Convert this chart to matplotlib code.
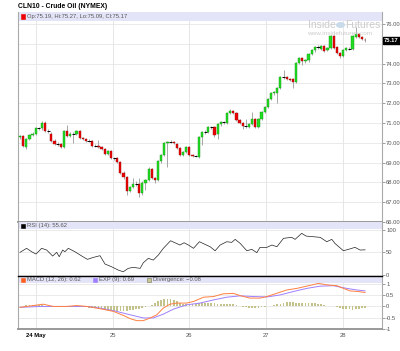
"""
Hourly crude oil (CLN10) candle chart with RSI and MACD panels.
"""

import matplotlib
matplotlib.use("Agg")
import matplotlib.pyplot as plt
from matplotlib.patches import Rectangle, Ellipse
import numpy as np

# ---- data ------------------------------------------------------------
opens = [70.28, 70.33, 69.78, 70.20, 70.40, 70.45, 70.75, 70.72, 71.00, 70.60,
         70.45, 70.10, 69.95, 69.95, 69.80, 70.60, 70.35, 70.45, 70.45, 70.58,
         70.22, 70.20, 70.10, 70.10, 69.85, 69.82, 69.80, 69.70, 69.45, 69.60,
         69.25, 69.25, 69.05, 68.45, 68.25, 67.55, 67.75, 67.90, 67.90, 67.45,
         67.95, 68.10, 68.70, 68.20, 68.10, 69.10, 69.40, 70.00, 70.05, 70.05,
         69.95, 69.75, 69.40, 69.55, 69.80, 69.40, 69.35, 69.30, 70.30, 70.55,
         70.55, 70.80, 70.80, 70.45, 70.95, 71.05, 71.00, 71.50, 71.60, 71.50,
         71.15, 71.00, 70.85, 70.80, 70.95, 71.20, 70.80, 71.20, 71.55, 71.80,
         72.20, 72.50, 72.50, 72.75, 73.30, 73.30, 73.20, 73.20, 73.05, 74.05,
         74.30, 74.15, 74.20, 74.50, 74.70, 74.85, 74.75, 74.90, 74.70, 74.80,
         75.40, 74.85, 74.55, 74.40, 74.70, 74.75, 74.75, 75.35, 75.50, 75.35,
         75.19]
highs = [70.40, 70.40, 70.25, 70.42, 70.55, 70.80, 70.82, 71.08, 71.10, 70.70,
         70.55, 70.20, 70.05, 70.00, 70.65, 70.90, 70.55, 70.55, 70.65, 70.62,
         70.30, 70.25, 70.18, 70.15, 69.95, 70.15, 69.85, 69.75, 69.65, 69.65,
         69.30, 69.30, 69.10, 68.55, 68.30, 67.80, 68.20, 68.05, 68.20, 68.05,
         68.15, 68.80, 68.75, 68.25, 69.15, 69.45, 70.05, 70.10, 70.12, 70.10,
         70.00, 69.80, 69.60, 69.85, 69.85, 69.45, 69.40, 70.35, 70.58, 70.65,
         70.85, 70.85, 70.85, 71.00, 71.10, 71.12, 71.55, 71.68, 71.65, 71.55,
         71.20, 71.05, 71.20, 71.00, 71.55, 71.25, 71.25, 71.60, 71.85, 72.25,
         72.55, 72.60, 72.80, 73.35, 73.65, 73.35, 73.25, 73.25, 74.10, 74.35,
         74.35, 74.25, 74.55, 74.72, 74.90, 74.92, 74.92, 74.95, 74.85, 75.45,
         75.45, 74.90, 74.60, 74.75, 74.85, 74.85, 75.45, 75.85, 75.55, 75.40,
         75.27]
lows = [70.20, 69.80, 69.70, 70.12, 70.35, 70.40, 70.65, 70.65, 70.55, 70.50,
        70.05, 69.90, 69.85, 69.75, 69.75, 70.30, 70.30, 70.00, 70.40, 70.20,
        70.15, 70.05, 70.02, 69.80, 69.78, 69.75, 69.65, 69.40, 69.40, 69.20,
        69.15, 69.00, 68.40, 68.15, 67.35, 67.50, 67.70, 67.80, 67.25, 67.35,
        67.60, 68.05, 68.15, 67.95, 68.05, 69.00, 69.35, 68.80, 69.98, 69.95,
        69.70, 69.35, 69.35, 69.50, 69.35, 69.30, 69.28, 69.25, 69.90, 70.45,
        70.50, 70.70, 70.30, 70.20, 70.85, 70.95, 70.95, 71.45, 71.45, 71.10,
        70.95, 70.70, 70.75, 70.75, 70.90, 70.75, 70.75, 71.15, 71.50, 71.75,
        72.15, 72.40, 72.00, 72.70, 73.20, 73.15, 73.10, 72.75, 73.00, 74.00,
        73.95, 74.05, 74.10, 74.45, 74.60, 74.75, 74.70, 74.60, 74.65, 74.75,
        74.75, 74.50, 74.30, 74.35, 74.65, 74.70, 74.70, 75.30, 75.30, 75.20,
        75.09]
closes = [70.33, 69.85, 70.20, 70.38, 70.45, 70.75, 70.75, 71.00, 70.60, 70.60,
          70.10, 69.95, 69.95, 69.80, 70.60, 70.35, 70.42, 70.45, 70.58, 70.22,
          70.20, 70.10, 70.10, 69.85, 69.85, 69.80, 69.70, 69.45, 69.60, 69.25,
          69.25, 69.05, 68.45, 68.25, 67.55, 67.75, 67.90, 67.90, 67.45, 67.95,
          68.10, 68.70, 68.20, 68.10, 69.10, 69.40, 70.00, 70.05, 70.05, 70.00,
          69.75, 69.40, 69.55, 69.80, 69.40, 69.35, 69.35, 70.30, 70.55, 70.55,
          70.80, 70.80, 70.40, 70.95, 71.05, 71.05, 71.50, 71.60, 71.50, 71.15,
          71.00, 70.85, 70.85, 70.95, 71.20, 70.80, 71.20, 71.55, 71.80, 72.20,
          72.50, 72.55, 72.75, 73.30, 73.30, 73.20, 73.15, 73.05, 74.05, 74.30,
          74.15, 74.20, 74.50, 74.70, 74.85, 74.85, 74.90, 74.65, 74.80, 75.40,
          74.80, 74.55, 74.40, 74.70, 74.80, 74.75, 75.40, 75.50, 75.35, 75.25,
          75.17]

rsi_idx = [0, 2.1, 3.7, 5.1, 6.9, 8.5, 10.4, 11.7, 12.5, 13.6, 14.3, 15.4,
           17.5, 19.7, 21.5, 23.4, 25.5, 27.1, 29.2, 31.3, 32.9, 34.5, 36.1,
           38.3, 39.3, 40.9, 42.5, 44.1, 45.7, 48.0, 49.4, 51.0, 52.3, 53.7,
           55.3, 57.2, 59.0, 60.6, 62.2, 63.8, 65.9, 67.5, 68.6, 70.2, 72.3,
           73.9, 75.5, 76.5, 78.7, 80.3, 81.9, 84.0, 86.6, 87.7, 89.8, 91.2,
           93.5, 95.7, 97.8, 99.4, 100.4, 103.1, 104.7, 106.8, 108.4, 110.0]
rsi_val = [50, 59, 51.4, 46.2, 59, 55.2, 41.7, 50, 40.2, 55.2, 51.4, 59,
           51.4, 41.7, 34.3, 38.7, 42.5, 23.8, 17.7, 10.3, 6.5, 14.1, 16.4,
           14.1, 26.7, 36.5, 32.7, 44, 59, 76, 71.5, 66.4, 71.5, 66.4,
           59, 73.8, 67.8, 62.6, 53.6, 66.4, 73.8, 72.4, 79.1, 70, 53.6,
           56.7, 49.3, 61.2, 61.2, 66.4, 62.6, 81.4, 83.6, 79.1, 92.6, 86.5,
           85, 83.6, 73.8, 79.1, 70, 53.6, 56.7, 61.2, 55.2, 55.62]

macd_idx = [0, 4.25, 7.4, 10.6, 14.9, 18.1, 21.3, 25.5, 29.8, 33.0, 35.1,
            37.2, 39.3, 41.5, 43.6, 45.7, 47.8, 50.0, 53.1, 55.3, 58.5, 61.7,
            64.8, 68.0, 70.2, 73.3, 76.5, 78.7, 81.8, 85.0, 88.2, 91.4, 95.1,
            98.3, 101.0, 103.1, 105.2, 107.9, 110.0]
macd_val = [-0.04, 0.04, 0.10, 0.0, 0.0, 0.04, 0.0, -0.10, -0.22, -0.40, -0.54,
            -0.63, -0.63, -0.51, -0.37, -0.07, 0.10, 0.15, 0.15, 0.22, 0.41, 0.44,
            0.56, 0.58, 0.48, 0.37, 0.37, 0.44, 0.58, 0.73, 0.80, 0.90, 1.02,
            0.95, 0.92, 0.80, 0.69, 0.66, 0.62]

signal_idx = [0, 6.4, 14.9, 21.3, 25.5, 30.8, 35.1, 39.3, 42.5, 45.7, 48.9,
              53.1, 57.4, 61.7, 65.9, 70.2, 74.4, 78.7, 82.9, 87.1, 91.4, 95.7,
              99.9, 104.2, 107.4, 110.0]
signal_val = [-0.04, 0.0, 0.0, 0.0, -0.07, -0.22, -0.37, -0.51, -0.51, -0.34,
              -0.12, 0.07, 0.15, 0.29, 0.41, 0.47, 0.44, 0.42, 0.51, 0.66, 0.80,
              0.90, 0.92, 0.80, 0.73, 0.69]

divergence = [0.02, 0.04, 0.05, 0.06, 0.07,
              0.07, 0.06, 0.05, 0.03, 0.02,
              -0.02, -0.03, -0.02, 0.01, 0.02,
              0.02, 0.01, 0.0, -0.01, -0.02, -0.03, -0.04,
              -0.05, -0.07, -0.09, -0.11, -0.13, -0.15, -0.17, -0.18, -0.19,
              -0.20, -0.20, -0.19, -0.18, -0.16, -0.14, -0.12, -0.10, -0.07, -0.04,
              0.02, 0.08, 0.15, 0.22, 0.28, 0.33, 0.34, 0.32, 0.28, 0.22, 0.16, 0.12,
              0.10, 0.10, 0.11, 0.13, 0.15, 0.16, 0.16, 0.15, 0.15, 0.14, 0.13, 0.13,
              0.12, 0.12, 0.11, 0.09, 0.06, 0.03,
              -0.02, -0.04, -0.05, -0.06, -0.06, -0.05, -0.04, -0.03, 0.0, 0.03,
              0.07, 0.10, 0.13, 0.16, 0.18, 0.19, 0.18, 0.17, 0.17, 0.17, 0.16, 0.16,
              0.15, 0.14, 0.12, 0.10, 0.07, 0.04, 0.02,
              0.0, -0.03, -0.07, -0.10, -0.12, -0.13, -0.14, -0.13, -0.11, -0.09, -0.08]

day_pos = [5.1, 29.6, 53.9, 78.4, 103.0]
day_labels = ["24 May", "25", "26", "27", "28"]
price_ticks = [66, 67, 68, 69, 70, 71, 72, 73, 74, 75, 76]
rsi_ticks = [0, 50, 100]
macd_ticks = [-1, -0.5, 0, 0.5, 1]

title = "CLN10 - Crude Oil (NYMEX)"
ohlc_text = "Op:75.19, Hi:75.27, Lo:75.09, Cl:75.17"
rsi_text = "RSI (14): 55.62"
macd_text = "MACD (12, 26): 0.62"
exp_text = "EXP (9): 0.69"
div_text = "Divergence: \u22120.08"
last_price = 75.17

# ---- style -------------------------------------------------------------
FONT = ["Liberation Sans", "DejaVu Sans"]
plt.rcParams["font.family"] = FONT
W, H = 400, 351
BAND = "#e4e4f8"
GRID = "#e6e6e6"
TXT = "#555555"
UP, DOWN = "#22dd22", "#ee0000"
XLIM = (-0.64, 115.4)


def fx(px):
    return px / W


def fy(py):
    return 1 - py / H


def style_panel(ax, ticks, labels, ylim, band_px, height_px):
    ax.set_xlim(*XLIM)
    ax.set_ylim(*ylim)
    ax.set_facecolor("white")
    ax.yaxis.tick_right()
    ax.set_yticks(ticks)
    ax.set_yticklabels(labels)
    ax.tick_params(axis="y", length=2, width=0.5, pad=1, labelsize=4.2,
                   colors="#777777", labelcolor=TXT)
    ax.set_xticks(day_pos)
    ax.tick_params(axis="x", length=0)
    ax.set_xticklabels([])
    for t in ticks:
        ax.axhline(t, color=GRID, lw=0.6, zorder=0)
    for d in day_pos:
        ax.axvline(d, color=GRID, lw=0.7, zorder=0)
    for side in ("left", "right"):
        ax.spines[side].set_color("#aaaaaa")
        ax.spines[side].set_linewidth(0.8)
    ax.spines["top"].set_visible(False)
    ax.spines["bottom"].set_visible(False)
    h = band_px / height_px
    ax.add_patch(Rectangle((0, 1 - h), 1, h, transform=ax.transAxes,
                           facecolor=BAND, edgecolor="none", zorder=1))


def legend_item(fig, x_sq, y, color, text, edge=None):
    fig.patches.append(Rectangle((fx(x_sq), fy(y + 2)), 4 / W, 4 / H,
                                 transform=fig.transFigure, facecolor=color,
                                 edgecolor=edge or color, lw=0.4))
    fig.text(fx(x_sq + 6), fy(y), text, fontsize=4.2, color=TXT, va="center")


def main():
    x = np.arange(len(closes))
    o = np.array(opens)
    c = np.array(closes)

    fig = plt.figure(figsize=(W / 100, H / 100), dpi=100)
    ax = fig.add_axes([fx(18), fy(222), fx(382) - fx(18), fy(12) - fy(222)])
    ax_rsi = fig.add_axes([fx(18), fy(276), fx(382) - fx(18), fy(222) - fy(276)])
    ax_macd = fig.add_axes([fx(18), fy(329), fx(382) - fx(18), fy(276) - fy(329)])

    # price panel
    price_labels = [f"{p:.2f}" if p != 75 else "" for p in price_ticks]
    style_panel(ax, price_ticks, price_labels, (66.1, 76.6), 9, 210)
    ax.vlines(x, lows, highs, color="#999999", lw=0.6, zorder=2)
    up = c > o + 0.015
    down = c < o - 0.015
    doji = ~(up | down)
    ax.bar(x[up], (c - o)[up], bottom=o[up], width=0.7, color=UP,
           edgecolor="#119911", lw=0.3, zorder=3)
    ax.bar(x[down], (o - c)[down], bottom=c[down], width=0.7, color=DOWN,
           edgecolor="#991111", lw=0.3, zorder=3)
    ax.hlines(c[doji], x[doji] - 0.5, x[doji] + 0.5, color="black", lw=0.7, zorder=3)
    ax.text(1.006, last_price, f"{last_price:.2f}", transform=ax.get_yaxis_transform(),
            fontsize=4.2, color="white", fontweight="bold", va="center", ha="left",
            bbox=dict(boxstyle="square,pad=0.15", facecolor="black", edgecolor="black"),
            clip_on=False, zorder=6)
    ax.spines["bottom"].set_visible(True)
    ax.spines["bottom"].set_color("#999999")
    ax.spines["bottom"].set_linewidth(1.4)

    # RSI panel
    style_panel(ax_rsi, rsi_ticks, [str(t) for t in rsi_ticks], (-3, 118), 7, 54)
    ax_rsi.plot(rsi_idx, rsi_val, color="#222222", lw=0.5, zorder=3)

    # MACD panel
    style_panel(ax_macd, macd_ticks, ["-1", "-0.5", "0", "0.5", "1"],
                (-1.0, 1.35), 7, 53)
    ax_macd.bar(x, divergence, width=0.55, color="#c2c28a", edgecolor="none", zorder=2)
    ax_macd.plot(signal_idx, signal_val, color="#9f7fff", lw=0.7, zorder=3)
    ax_macd.plot(macd_idx, macd_val, color="#ff8040", lw=0.7, zorder=4)
    ax_macd.spines["top"].set_visible(True)
    ax_macd.spines["top"].set_color("black")
    ax_macd.spines["top"].set_linewidth(1.0)
    ax_macd.spines["bottom"].set_visible(True)
    ax_macd.spines["bottom"].set_color("#999999")
    ax_macd.spines["bottom"].set_linewidth(1.4)
    ax_macd.set_xticklabels(day_labels)
    ax_macd.tick_params(axis="x", labelsize=4.2, pad=3, labelcolor=TXT)
    ax_macd.get_xticklabels()[0].set_fontweight("bold")
    ax_macd.get_xticklabels()[0].set_color("black")

    # headers
    fig.text(fx(18), fy(6.5), title, fontsize=4.9, fontweight="bold",
             color="black", va="center")
    legend_item(fig, 21, 16.5, DOWN, ohlc_text)
    legend_item(fig, 21, 225.5, "black", rsi_text)
    legend_item(fig, 21, 279.5, "#ff6020", macd_text)
    legend_item(fig, 93, 279.5, "#9f7fff", exp_text)
    legend_item(fig, 147, 279.5, "#c8c896", div_text, edge="#777755")

    # watermark
    fig.text(fx(336), fy(25), "Inside", fontsize=7.5, color="#cccccc",
             ha="right", va="center")
    fig.text(fx(345), fy(25), "Futures", fontsize=7.5, color="#cccccc",
             ha="left", va="center")
    fig.patches.append(Ellipse((fx(340.5), fy(25)), 9 / W, 6 / H,
                               transform=fig.transFigure, facecolor="#c9dbea",
                               edgecolor="none"))
    fig.text(fx(340), fy(33.5), "www.insidefutures.com", fontsize=4.6,
             color="#cccccc", ha="center", va="center")

    fig.savefig("out.png", dpi=100)


if __name__ == "__main__":
    main()
